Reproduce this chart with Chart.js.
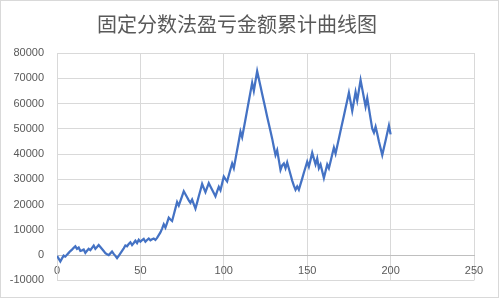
<!DOCTYPE html>
<html>
<head>
<meta charset="utf-8">
<script src="https://cdn.jsdelivr.net/npm/chart.js@4.4.1/dist/chart.umd.min.js"></script>
<style>
  html, body { margin: 0; padding: 0; background: #fff; }
  #wrap { position: relative; width: 499px; height: 300px; }
  #frame { position: absolute; left: 0; top: 0; width: 497px; height: 296px; border: 1px solid #D9D9D9; pointer-events: none; }
</style>
</head>
<body>
<div id="wrap">
  <canvas id="chart" width="499" height="300"></canvas>
  <div id="frame"></div>
</div>
<script>
// chart text
const title = '固定分数法盈亏金额累计曲线图';

// axis ranges (ticks every step)
const xMin = 0, xMax = 250, xStep = 50;
const yMin = -10000, yMax = 80000, yStep = 10000;

// cumulative P&L after each trade (trade 0..200)
const pnl = [
  -300, -1400, -2500, -1300, -200, -600, 200, 900, 1600, 2200,
  2900, 3500, 2500, 3000, 1700, 1900, 2200, 900, 1700, 2500,
  2000, 2900, 3800, 2500, 3200, 4000, 3200, 2400, 1600, 800,
  300, 0, 700, 1400, 500, -300, -1200, -300, 700, 1700,
  2700, 3800, 3500, 4400, 5100, 4000, 4800, 5700, 4800, 6100,
  5300, 5900, 6400, 5300, 6000, 6600, 5900, 6300, 6600, 6000,
  6800, 7900, 9000, 10500, 12200, 10900, 12800, 14800, 14100, 13500,
  16000, 18500, 21000, 19600, 21500, 23400, 25300, 24100, 22900, 21700,
  20700, 22000, 20200, 18400, 20800, 23300, 25700, 28200, 26500, 24900,
  26700, 28500, 27200, 25900, 24600, 23300, 25200, 27000, 25700, 28400,
  31100, 30100, 29200, 31600, 34000, 36300, 34400, 38000, 41600, 45200,
  48900, 46700, 50200, 53800, 57400, 61000, 64600, 68200, 65000, 68900,
  72800, 69800, 66800, 63800, 60800, 57800, 54800, 51900, 49000, 46100,
  42800, 39600, 41500, 37600, 33700, 35500, 36300, 34400, 36700, 34300,
  31900, 29500, 27500, 25900, 27200, 25900, 28100, 30300, 32600, 34800,
  37000, 35000, 37700, 40500, 38200, 35900, 38300, 34400, 35900, 33200,
  30500, 33200, 35900, 34400, 37100, 39800, 42500, 40200, 43200, 46200,
  49200, 52200, 55200, 58200, 61200, 64300, 60700, 57100, 60800, 64600,
  61200, 65200, 69300, 65800, 62300, 58800, 62200, 58100, 54000, 50000,
  48500, 50800, 48000, 45000, 42300, 39600, 42500, 45400, 48300, 51300,
  47800
];

const points = pnl.map((v, i) => ({ x: i, y: v }));

const gridColor = '#D9D9D9';
const textColor = '#595959';
const tickFont = { family: '"Liberation Sans", Arial, sans-serif', size: 11 };

new Chart(document.getElementById('chart'), {
  type: 'line',
  data: {
    datasets: [{
      data: points,
      borderColor: '#4472C4',
      borderWidth: 2.25,
      pointRadius: 0,
      tension: 0,
      fill: false
    }]
  },
  options: {
    responsive: false,
    animation: false,
    layout: { padding: { left: 0, right: 25, top: 0, bottom: 0 } },
    plugins: {
      legend: { display: false },
      tooltip: { enabled: false },
      title: {
        display: true,
        text: title,
        color: textColor,
        font: { family: '"Noto Sans CJK SC", sans-serif', size: 20, weight: 'normal' },
        padding: { top: 12, bottom: 17 }
      }
    },
    scales: {
      x: {
        type: 'linear',
        position: { y: 0 },
        min: xMin,
        max: xMax,
        afterFit: s => { s.height = 16; },
        grid: { color: gridColor, lineWidth: 1, tickLength: 0 },
        border: { color: '#BFBFBF', width: 1 },
        ticks: { stepSize: xStep, color: textColor, font: tickFont, padding: 9, maxRotation: 0, callback: v => String(v) }
      },
      y: {
        type: 'linear',
        min: yMin,
        max: yMax,
        afterFit: s => { s.width = 57; },
        grid: { color: gridColor, lineWidth: 1, tickLength: 0 },
        border: { color: gridColor, width: 1 },
        ticks: { stepSize: yStep, color: textColor, font: tickFont, padding: 13, callback: v => String(v) }
      }
    }
  }
});
</script>
</body>
</html>
